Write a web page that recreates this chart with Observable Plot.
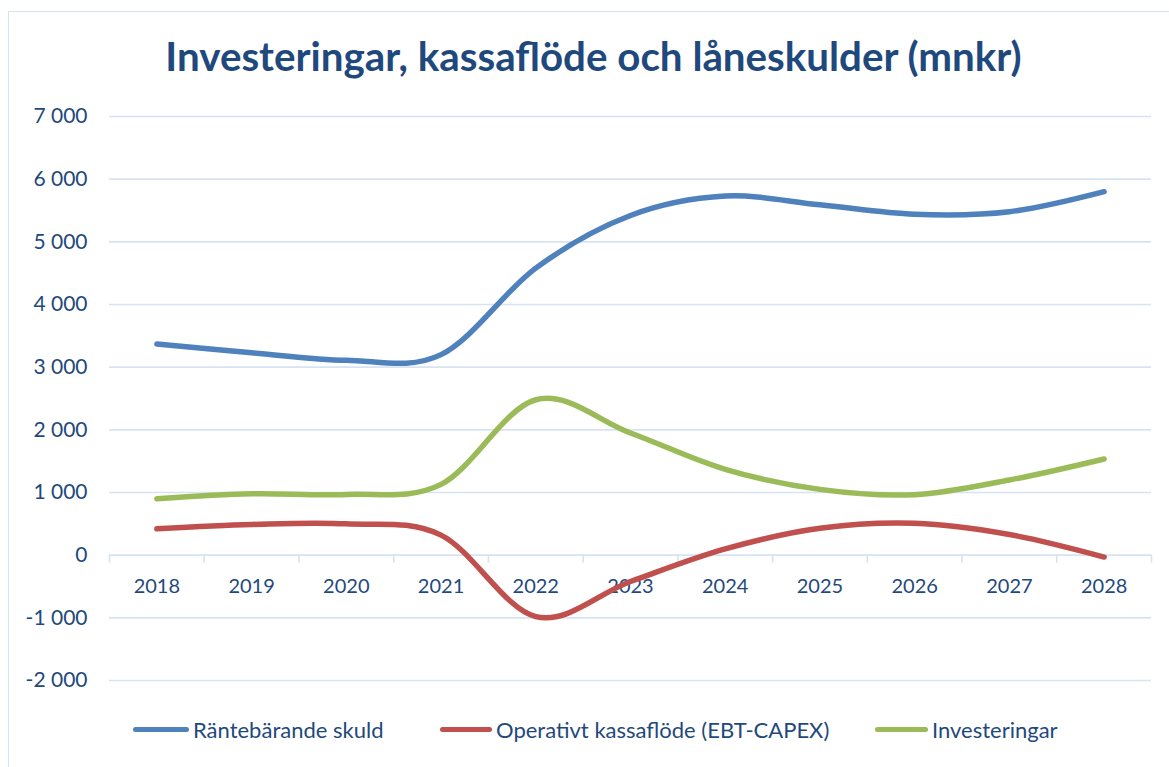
<!DOCTYPE html>
<html>
<head>
<meta charset="utf-8">
<script src="https://cdn.jsdelivr.net/npm/d3@7"></script>
<script src="https://cdn.jsdelivr.net/npm/@observablehq/plot@0.6"></script>
<style>
  html, body { margin: 0; padding: 0; background: #fff; }
  body { width: 1169px; height: 767px; position: relative; overflow: hidden; font-family: Lato, "Open Sans", sans-serif; }
  #frame { position: absolute; left: 8px; top: 11px; width: 1200px; height: 800px; border-left: 1.5px solid #d7e3f3; border-top: 1.5px solid #d7e3f3; }
  #title { position: absolute; left: 9px; width: 1169px; top: 32px; text-align: center; font-weight: 700; font-size: 40.3px; line-height: 1.2; color: #1F497D; }
  #chart { position: absolute; left: 0; top: 100px; }
  .leg { position: absolute; top: 716px; display: flex; align-items: center; font-size: 22px; color: #1F497D; white-space: nowrap; }
  .leg span.sw { display: inline-block; height: 5px; border-radius: 3px; margin-right: 4px; }
</style>
</head>
<body>
<div id="frame"></div>
<div id="title">Investeringar, kassaflöde och låneskulder (mnkr)</div>
<div id="chart"></div>
<div id="legend"></div>
<script>
const years = [2018, 2019, 2020, 2021, 2022, 2023, 2024, 2025, 2026, 2027, 2028];
const skuld = [3370, 3230, 3110, 3200, 4580, 5420, 5730, 5590, 5440, 5480, 5800];
const kassaflode = [420, 490, 500, 320, -980, -420, 100, 430, 510, 330, -30];
const investeringar = [900, 980, 970, 1130, 2480, 1950, 1370, 1050, 965, 1200, 1535];
const seriesNames = ["Räntebärande skuld", "Operativt kassaflöde (EBT-CAPEX)", "Investeringar"];
const seriesColors = ["#4F81BD", "#C0504D", "#9BBB59"];
const yTicks = [-2000, -1000, 0, 1000, 2000, 3000, 4000, 5000, 6000, 7000];

const seriesValues = [skuld, kassaflode, investeringar];
const rows = [];
seriesNames.forEach((name, i) => {
  years.forEach((yr, j) => rows.push({series: name, year: yr, value: seriesValues[i][j]}));
});
const bounds = d3.range(years.length + 1).map(i => years[0] - 0.5 + i);

const fmt = d3.formatLocale({decimal: ",", thousands: " ", grouping: [3], currency: ["", ""], minus: "-"}).format(",");
const textColor = "#1F497D";
const gridColor = "#d7e3f3";

const plot = Plot.plot({
  width: 1169,
  height: 600,
  marginLeft: 109,
  marginRight: 18,
  marginTop: 16,
  marginBottom: 20,
  style: {fontFamily: "Lato, 'Open Sans', sans-serif", background: "transparent", overflow: "visible"},
  x: {type: "linear", domain: [years[0] - 0.5, years[years.length - 1] + 0.5], axis: null},
  y: {domain: [yTicks[0], yTicks[yTicks.length - 1]], axis: null},
  color: {domain: seriesNames, range: seriesColors},
  marks: [
    Plot.ruleY(yTicks, {stroke: gridColor, strokeWidth: 1.6}),
    Plot.ruleX(bounds, {x: d => d, y1: 0, y2: 0, insetBottom: -8, stroke: gridColor, strokeWidth: 1.6}),
    Plot.text(yTicks, {y: d => d, frameAnchor: "left", dx: -22, textAnchor: "end", text: d => fmt(d), fontSize: 21, fill: textColor}),
    Plot.text(years, {x: d => d, y: 0, dy: 31, text: d => String(d), fontSize: 20, fill: textColor}),
    Plot.line(rows, {x: "year", y: "value", z: "series", stroke: "series", strokeWidth: 5.5, curve: "cardinal", tension: 0, strokeLinecap: "round", strokeLinejoin: "round"})
  ]
});
document.getElementById("chart").appendChild(plot);

const legPos = [133, 440, 875];
const legSw = [56, 52, 53];
const legend = document.getElementById("legend");
seriesNames.forEach((name, i) => {
  const item = document.createElement("div");
  item.className = "leg";
  item.style.left = legPos[i] + "px";
  const sw = document.createElement("span");
  sw.className = "sw";
  sw.style.width = legSw[i] + "px";
  sw.style.background = seriesColors[i];
  item.appendChild(sw);
  const t = document.createElement("span");
  t.textContent = name;
  item.appendChild(t);
  legend.appendChild(item);
});
</script>
</body>
</html>
